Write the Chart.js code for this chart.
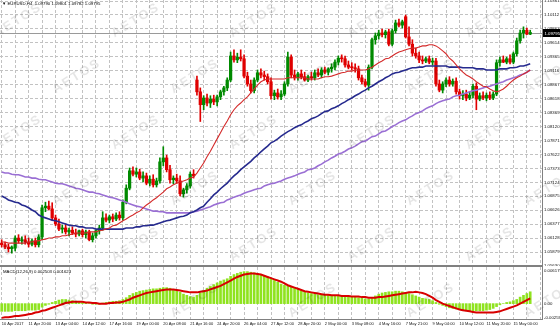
<!DOCTYPE html>
<html><head><meta charset="utf-8">
<script src="https://cdn.jsdelivr.net/npm/chart.js@4/dist/chart.umd.min.js"></script>
<style>
html,body{margin:0;padding:0;background:#fff;}
#wrap{position:relative;width:560px;height:328px;overflow:hidden;background:#fff;}
canvas{position:absolute;left:0;}
#c1{top:0;}
#c2{top:263px;}
.wm{position:absolute;font:bold 13px "Liberation Sans",Arial,sans-serif;letter-spacing:2px;color:rgba(0,0,0,0.10);transform:rotate(-32deg);transform-origin:center;white-space:nowrap;z-index:5;pointer-events:none;}
#sep{position:absolute;left:0;top:265px;width:543px;height:2px;background:#808080;z-index:3;}
</style></head><body>
<div id="wrap">
<canvas id="c1" width="560" height="266"></canvas>
<canvas id="c2" width="560" height="65"></canvas>
<div id="sep"></div>
</div>
<script>
// ---------- data ----------
const timeLabels = ["10 Apr 2017","11 Apr 20:00","13 Apr 04:00","14 Apr 12:00","17 Apr 16:00","19 Apr 00:00","20 Apr 08:00","21 Apr 16:00","24 Apr 20:00","26 Apr 04:00","27 Apr 12:00","28 Apr 20:00","2 May 00:00","3 May 08:00","4 May 16:00","7 May 21:00","9 May 04:00","10 May 12:00","11 May 20:00","15 May 00:00"];
const priceTicks = [1.10361,1.10112,1.09863,1.09614,1.09365,1.09116,1.08867,1.08618,1.08369,1.08120,1.07871,1.07622,1.07373,1.07124,1.06875,1.06626,1.06377,1.06128,1.05879,1.05630];
const headerText = "\u25BC EURUSD,H4  1.09790 1.09801 1.09782 1.09795";
const macdText = "MACD(12,26,9) 0.002503 0.001623";
const lastPrice = 1.09795;
const macdMax = 0.006179, macdMin = -0.002591;

const open = [1.0604,1.0601,1.0597,1.0594,1.0595,1.0613,1.0608,1.0610,1.0606,1.0602,
1.0608,1.0601,1.0615,1.0667,1.0670,1.0665,1.0649,1.0638,1.0629,1.0631,
1.0624,1.0627,1.0622,1.0620,1.0626,1.0619,1.0624,1.0610,1.0617,1.0626,
1.0631,1.0649,1.0645,1.0651,1.0647,1.0654,1.0649,1.0677,1.0702,1.0733,
1.0727,1.0731,1.0720,1.0724,1.0711,1.0718,1.0708,1.0715,1.0749,1.0756,
1.0735,1.0717,1.0720,1.0715,1.0692,1.0699,1.0706,1.0727,1.0895,1.0874,
1.0851,1.0863,1.0854,1.0861,1.0856,1.0865,1.0874,1.0881,1.0895,1.0938,
1.0931,1.0936,1.0933,1.0902,1.0888,1.0876,1.0895,1.0908,1.0904,1.0901,
1.0892,1.0867,1.0872,1.0865,1.0870,1.0888,1.0936,1.0904,1.0899,1.0906,
1.0901,1.0895,1.0901,1.0899,1.0908,1.0904,1.0913,1.0909,1.0915,1.0918,
1.0927,1.0934,1.0933,1.0922,1.0918,1.0917,1.0915,1.0899,1.0892,1.0886,
1.0918,1.0967,1.0974,1.0979,1.0976,1.0981,1.0959,1.0983,1.0997,1.0993,
1.1008,1.0972,1.0959,1.0943,1.0938,1.0931,1.0929,1.0933,1.0927,1.0929,
1.0888,1.0877,1.0888,1.0895,1.0888,1.0893,1.0874,1.0867,1.0870,1.0863,
1.0868,1.0884,1.0861,1.0867,1.0863,1.0868,1.0863,1.0870,1.0926,1.0931,
1.0927,1.0933,1.0927,1.0942,1.0965,1.0979,1.0984,1.0977];
const high = [1.0610,1.0606,1.0602,1.0599,1.0617,1.0619,1.0615,1.0617,1.0613,1.0611,
1.0613,1.0619,1.0672,1.0677,1.0679,1.0676,1.0654,1.0647,1.0636,1.0638,
1.0631,1.0633,1.0629,1.0627,1.0629,1.0627,1.0627,1.0622,1.0627,1.0636,
1.0660,1.0656,1.0654,1.0656,1.0658,1.0660,1.0681,1.0708,1.0738,1.0740,
1.0738,1.0736,1.0731,1.0729,1.0724,1.0726,1.0720,1.0756,1.0776,1.0761,
1.0743,1.0724,1.0727,1.0724,1.0702,1.0710,1.0731,1.0735,1.0902,1.0881,
1.0867,1.0870,1.0867,1.0868,1.0868,1.0877,1.0884,1.0899,1.0945,1.0949,
1.0943,1.0949,1.0940,1.0909,1.0895,1.0899,1.0913,1.0915,1.0911,1.0906,
1.0899,1.0877,1.0879,1.0876,1.0892,1.0945,1.0940,1.0913,1.0909,1.0913,
1.0909,1.0904,1.0909,1.0913,1.0915,1.0917,1.0918,1.0917,1.0924,1.0931,
1.0938,1.0940,1.0938,1.0929,1.0926,1.0924,1.0920,1.0904,1.0897,1.0922,
1.0970,1.0979,1.0984,1.0986,1.0984,1.0986,1.0986,1.1002,1.1004,1.1002,
1.1011,1.0990,1.0967,1.0952,1.0945,1.0938,1.0936,1.0938,1.0934,1.0934,
1.0895,1.0892,1.0899,1.0901,1.0897,1.0899,1.0879,1.0876,1.0877,1.0874,
1.0888,1.0890,1.0872,1.0874,1.0872,1.0874,1.0874,1.0931,1.0936,1.0938,
1.0936,1.0940,1.0945,1.0970,1.0984,1.0990,1.0988,1.0984];
const low = [1.0597,1.0594,1.0588,1.0586,1.0590,1.0604,1.0602,1.0602,1.0597,1.0599,
1.0597,1.0597,1.0610,1.0660,1.0663,1.0645,1.0635,1.0626,1.0622,1.0620,
1.0617,1.0619,1.0615,1.0617,1.0615,1.0613,1.0608,1.0606,1.0613,1.0620,
1.0627,1.0642,1.0640,1.0642,1.0644,1.0645,1.0645,1.0674,1.0699,1.0724,
1.0722,1.0717,1.0713,1.0708,1.0706,1.0704,1.0704,1.0711,1.0742,1.0731,
1.0711,1.0710,1.0711,1.0688,1.0686,1.0693,1.0702,1.0720,1.0868,1.0821,
1.0842,1.0849,1.0846,1.0851,1.0849,1.0860,1.0868,1.0876,1.0892,1.0927,
1.0926,1.0929,1.0899,1.0884,1.0872,1.0872,1.0892,1.0899,1.0895,1.0888,
1.0861,1.0860,1.0861,1.0860,1.0867,1.0884,1.0899,1.0895,1.0895,1.0897,
1.0893,1.0892,1.0895,1.0895,1.0901,1.0899,1.0906,1.0904,1.0909,1.0913,
1.0922,1.0927,1.0918,1.0915,1.0913,1.0909,1.0895,1.0888,1.0883,1.0877,
1.0915,1.0959,1.0968,1.0972,1.0970,1.0956,1.0956,1.0979,1.0990,1.0988,
1.0970,1.0956,1.0938,1.0934,1.0926,1.0924,1.0926,1.0924,1.0922,1.0884,
1.0874,1.0872,1.0883,1.0884,1.0884,1.0870,1.0861,1.0860,1.0858,1.0860,
1.0863,1.0842,1.0858,1.0860,1.0858,1.0860,1.0860,1.0867,1.0920,1.0926,
1.0924,1.0924,1.0924,1.0938,1.0961,1.0970,1.0976,1.0976];
const close = [1.0601,1.0597,1.0594,1.0597,1.0613,1.0608,1.0610,1.0606,1.0602,1.0608,
1.0601,1.0615,1.0667,1.0670,1.0665,1.0649,1.0638,1.0629,1.0631,1.0624,
1.0627,1.0622,1.0620,1.0626,1.0619,1.0624,1.0610,1.0617,1.0626,1.0631,
1.0649,1.0645,1.0651,1.0647,1.0654,1.0649,1.0677,1.0702,1.0733,1.0727,
1.0731,1.0720,1.0724,1.0711,1.0718,1.0708,1.0715,1.0749,1.0756,1.0735,
1.0717,1.0720,1.0715,1.0692,1.0699,1.0706,1.0727,1.0724,1.0874,1.0851,
1.0863,1.0854,1.0861,1.0856,1.0865,1.0874,1.0881,1.0895,1.0938,1.0931,
1.0936,1.0933,1.0902,1.0888,1.0876,1.0895,1.0908,1.0904,1.0901,1.0892,
1.0867,1.0872,1.0865,1.0870,1.0888,1.0936,1.0904,1.0899,1.0906,1.0901,
1.0895,1.0901,1.0899,1.0908,1.0904,1.0913,1.0909,1.0915,1.0918,1.0927,
1.0934,1.0933,1.0922,1.0918,1.0917,1.0915,1.0899,1.0892,1.0886,1.0918,
1.0967,1.0974,1.0979,1.0976,1.0981,1.0959,1.0983,1.0997,1.0993,1.0999,
1.0972,1.0959,1.0943,1.0938,1.0931,1.0929,1.0933,1.0927,1.0929,1.0888,
1.0877,1.0888,1.0895,1.0888,1.0893,1.0874,1.0867,1.0870,1.0863,1.0868,
1.0884,1.0861,1.0867,1.0863,1.0868,1.0863,1.0870,1.0926,1.0931,1.0927,
1.0933,1.0927,1.0942,1.0965,1.0979,1.0984,1.0977,1.0980];
const maRed = [1.0606,1.0606,1.0604,1.0604,1.0604,1.0604,1.0604,1.0604,1.0606,1.0606,
1.0608,1.0608,1.0610,1.0611,1.0613,1.0613,1.0615,1.0615,1.0617,1.0617,
1.0619,1.0620,1.0622,1.0622,1.0622,1.0622,1.0624,1.0624,1.0624,1.0626,
1.0627,1.0629,1.0631,1.0635,1.0636,1.0640,1.0644,1.0647,1.0651,1.0654,
1.0658,1.0661,1.0667,1.0672,1.0676,1.0681,1.0685,1.0690,1.0695,1.0701,
1.0704,1.0708,1.0711,1.0713,1.0715,1.0717,1.0720,1.0722,1.0729,1.0738,
1.0747,1.0758,1.0768,1.0779,1.0790,1.0801,1.0812,1.0822,1.0833,1.0842,
1.0849,1.0854,1.0860,1.0865,1.0872,1.0879,1.0886,1.0892,1.0895,1.0897,
1.0897,1.0897,1.0897,1.0897,1.0897,1.0899,1.0899,1.0899,1.0899,1.0899,
1.0899,1.0897,1.0897,1.0897,1.0897,1.0899,1.0901,1.0901,1.0902,1.0904,
1.0906,1.0908,1.0909,1.0911,1.0911,1.0913,1.0913,1.0913,1.0913,1.0915,
1.0918,1.0922,1.0926,1.0929,1.0933,1.0934,1.0938,1.0942,1.0945,1.0947,
1.0949,1.0951,1.0952,1.0952,1.0954,1.0956,1.0956,1.0958,1.0958,1.0956,
1.0952,1.0947,1.0942,1.0934,1.0929,1.0922,1.0915,1.0909,1.0904,1.0901,
1.0897,1.0892,1.0888,1.0884,1.0883,1.0879,1.0876,1.0874,1.0876,1.0879,
1.0884,1.0890,1.0895,1.0899,1.0902,1.0906,1.0909,1.0913];
const maBlue = [1.0688,1.0685,1.0681,1.0679,1.0677,1.0676,1.0672,1.0670,1.0667,1.0663,
1.0660,1.0654,1.0651,1.0649,1.0647,1.0645,1.0644,1.0642,1.0640,1.0638,
1.0636,1.0635,1.0635,1.0633,1.0633,1.0631,1.0631,1.0631,1.0629,1.0629,
1.0629,1.0629,1.0629,1.0629,1.0629,1.0629,1.0629,1.0631,1.0631,1.0631,
1.0633,1.0633,1.0635,1.0635,1.0636,1.0636,1.0638,1.0640,1.0642,1.0644,
1.0645,1.0647,1.0649,1.0651,1.0652,1.0654,1.0658,1.0660,1.0663,1.0667,
1.0670,1.0677,1.0683,1.0690,1.0695,1.0701,1.0706,1.0711,1.0718,1.0724,
1.0729,1.0735,1.0740,1.0745,1.0750,1.0756,1.0761,1.0767,1.0772,1.0777,
1.0783,1.0786,1.0790,1.0795,1.0799,1.0803,1.0806,1.0810,1.0813,1.0815,
1.0819,1.0822,1.0826,1.0828,1.0831,1.0835,1.0839,1.0840,1.0844,1.0846,
1.0849,1.0853,1.0856,1.0860,1.0863,1.0867,1.0870,1.0874,1.0877,1.0881,
1.0884,1.0888,1.0892,1.0895,1.0899,1.0902,1.0906,1.0908,1.0909,1.0911,
1.0913,1.0915,1.0917,1.0917,1.0918,1.0918,1.0920,1.0920,1.0920,1.0920,
1.0920,1.0920,1.0920,1.0918,1.0918,1.0918,1.0918,1.0917,1.0917,1.0917,
1.0917,1.0915,1.0915,1.0915,1.0913,1.0913,1.0913,1.0913,1.0915,1.0915,
1.0915,1.0917,1.0917,1.0918,1.0920,1.0920,1.0922,1.0924];
const maPurple = [1.0731,1.0729,1.0729,1.0727,1.0726,1.0726,1.0724,1.0722,1.0722,1.0720,
1.0720,1.0718,1.0717,1.0717,1.0715,1.0713,1.0711,1.0710,1.0710,1.0708,
1.0706,1.0704,1.0702,1.0701,1.0699,1.0697,1.0695,1.0695,1.0693,1.0692,
1.0690,1.0688,1.0686,1.0685,1.0683,1.0681,1.0679,1.0677,1.0674,1.0672,
1.0670,1.0669,1.0667,1.0665,1.0663,1.0661,1.0661,1.0660,1.0660,1.0658,
1.0658,1.0658,1.0658,1.0658,1.0658,1.0658,1.0658,1.0660,1.0661,1.0663,
1.0665,1.0667,1.0669,1.0672,1.0674,1.0676,1.0677,1.0681,1.0683,1.0686,
1.0688,1.0690,1.0693,1.0695,1.0697,1.0699,1.0701,1.0702,1.0706,1.0708,
1.0710,1.0711,1.0713,1.0715,1.0718,1.0720,1.0722,1.0724,1.0727,1.0729,
1.0731,1.0735,1.0736,1.0738,1.0742,1.0745,1.0749,1.0752,1.0756,1.0759,
1.0763,1.0765,1.0768,1.0772,1.0774,1.0777,1.0781,1.0785,1.0786,1.0790,
1.0794,1.0795,1.0799,1.0803,1.0804,1.0808,1.0812,1.0815,1.0819,1.0822,
1.0824,1.0828,1.0831,1.0835,1.0837,1.0840,1.0844,1.0847,1.0849,1.0853,
1.0856,1.0858,1.0860,1.0861,1.0865,1.0867,1.0868,1.0870,1.0872,1.0874,
1.0876,1.0877,1.0879,1.0881,1.0883,1.0884,1.0886,1.0888,1.0890,1.0892,
1.0895,1.0897,1.0899,1.0901,1.0904,1.0906,1.0909,1.0913];
const macdHist = [-0.0013,-0.0013,-0.0013,-0.0013,-0.0012,-0.0012,-0.0012,-0.0012,-0.0011,-0.0011,
-0.0011,-0.0010,-0.0006,-0.0003,-0.0001,0.0002,0.0004,0.0006,0.0007,0.0007,
0.0006,0.0005,0.0004,0.0003,0.0002,0.0001,0.0000,-0.0001,-0.0001,-0.0001,
0.0001,0.0002,0.0003,0.0004,0.0004,0.0005,0.0007,0.0010,0.0014,0.0017,
0.0019,0.0021,0.0022,0.0023,0.0024,0.0025,0.0025,0.0026,0.0027,0.0027,
0.0026,0.0024,0.0022,0.0019,0.0016,0.0014,0.0012,0.0011,0.0014,0.0018,
0.0022,0.0026,0.0029,0.0032,0.0035,0.0038,0.0040,0.0042,0.0046,0.0049,
0.0051,0.0053,0.0054,0.0054,0.0053,0.0052,0.0051,0.0049,0.0047,0.0045,
0.0042,0.0039,0.0036,0.0033,0.0031,0.0030,0.0028,0.0026,0.0024,0.0022,
0.0020,0.0018,0.0017,0.0016,0.0015,0.0015,0.0014,0.0014,0.0014,0.0014,
0.0014,0.0014,0.0013,0.0013,0.0012,0.0011,0.0010,0.0009,0.0008,0.0008,
0.0010,0.0013,0.0016,0.0018,0.0019,0.0020,0.0020,0.0021,0.0021,0.0020,
0.0019,0.0017,0.0015,0.0013,0.0011,0.0009,0.0008,0.0007,0.0005,0.0002,
-0.0001,-0.0003,-0.0005,-0.0007,-0.0008,-0.0009,-0.0010,-0.0011,-0.0012,-0.0012,
-0.0012,-0.0012,-0.0012,-0.0012,-0.0011,-0.0010,-0.0008,-0.0005,-0.0002,0.0000,
0.0002,0.0003,0.0005,0.0007,0.0011,0.0014,0.0017,0.0020];
const macdSignal = [-0.0024,-0.0023,-0.0023,-0.0022,-0.0021,-0.0021,-0.0020,-0.0019,-0.0018,-0.0017,
-0.0015,-0.0014,-0.0012,-0.0011,-0.0009,-0.0007,-0.0005,-0.0003,-0.0001,0.0001,
0.0002,0.0003,0.0003,0.0003,0.0003,0.0002,0.0002,0.0001,0.0001,0.0000,
0.0000,0.0000,0.0001,0.0001,0.0002,0.0002,0.0003,0.0005,0.0007,0.0010,
0.0012,0.0014,0.0016,0.0018,0.0019,0.0020,0.0021,0.0022,0.0023,0.0024,
0.0024,0.0024,0.0023,0.0022,0.0021,0.0020,0.0019,0.0019,0.0019,0.0020,
0.0021,0.0022,0.0024,0.0026,0.0028,0.0030,0.0033,0.0036,0.0039,0.0042,
0.0045,0.0047,0.0049,0.0050,0.0051,0.0051,0.0050,0.0049,0.0047,0.0045,
0.0043,0.0041,0.0039,0.0037,0.0034,0.0031,0.0029,0.0027,0.0025,0.0023,
0.0021,0.0020,0.0019,0.0018,0.0017,0.0016,0.0015,0.0015,0.0014,0.0014,
0.0014,0.0013,0.0013,0.0013,0.0012,0.0012,0.0012,0.0011,0.0011,0.0010,
0.0010,0.0010,0.0011,0.0011,0.0012,0.0013,0.0014,0.0015,0.0016,0.0017,
0.0018,0.0019,0.0019,0.0020,0.0019,0.0018,0.0016,0.0013,0.0010,0.0006,
0.0003,0.0000,-0.0002,-0.0004,-0.0006,-0.0008,-0.0010,-0.0011,-0.0012,-0.0013,
-0.0014,-0.0015,-0.0015,-0.0015,-0.0015,-0.0015,-0.0015,-0.0014,-0.0013,-0.0011,
-0.0009,-0.0007,-0.0005,-0.0003,0.0000,0.0003,0.0006,0.0009];

// ---------- layout constants ----------
const SLOTS = 161;              // bars + empty right shift
const yMax = 1.10379, yMin = 1.05631;
const categories = Array.from({length: SLOTS}, (_, i) => i);
const FONT = '"Liberation Sans", Arial, sans-serif';
const GRID = '#c2c2c2';
const UP = '#008a00', DN = '#e00000';
const candleColors = close.map((c, i) => c >= open[i] ? UP : DN);

// watermark
const wmPos = [];
for (let r = 0; r < 6; r++) for (let k = 0; k < 6; k++) wmPos.push([ -10 + k*118 + (r%2)*59, 12 + r*56 ]);
const wrap = document.getElementById('wrap');
wmPos.forEach(([x,y]) => { const d = document.createElement('div'); d.className='wm'; d.textContent='AETOS'; d.style.left=x+'px'; d.style.top=y+'px'; wrap.appendChild(d); });

const gridColor = c => (c.index % 4 === 0 ? GRID : 'rgba(0,0,0,0)');

const overlay1 = {
  id: 'overlay1',
  beforeDatasetsDraw(chart) {
    const {ctx, chartArea, scales: {y}} = chart;
    const py = Math.round(y.getPixelForValue(lastPrice)) + 0.5;
    ctx.save(); ctx.strokeStyle = '#9a9a9a'; ctx.lineWidth = 1;
    ctx.beginPath(); ctx.moveTo(chartArea.left, py); ctx.lineTo(chartArea.right, py); ctx.stroke(); ctx.restore();
  },
  afterDraw(chart) {
    const {ctx, chartArea, scales: {y}} = chart;
    const py = Math.round(y.getPixelForValue(lastPrice));
    ctx.save();
    ctx.fillStyle = '#000'; ctx.fillRect(chartArea.right + 1, py - 4, 18, 8);
    ctx.fillStyle = '#fff'; ctx.font = '4.3px ' + FONT; ctx.textBaseline = 'middle';
    ctx.fillText(lastPrice.toFixed(5), chartArea.right + 2.5, py + 0.5);
    ctx.fillStyle = '#000'; ctx.textBaseline = 'top'; ctx.font = '4.3px ' + FONT;
    ctx.fillText(headerText, 2, 2);
    ctx.restore();
  }
};

new Chart(document.getElementById('c1'), {
  type: 'bar',
  data: {
    labels: categories,
    datasets: [
      {type: 'line', data: maRed, borderColor: '#d42a2a', borderWidth: 1.1, pointRadius: 0, order: 0},
      {type: 'line', data: maBlue, borderColor: '#262a8e', borderWidth: 1.6, pointRadius: 0, order: 0},
      {type: 'line', data: maPurple, borderColor: '#9a6fd4', borderWidth: 1.6, pointRadius: 0, order: 0},
      {data: low.map((l, i) => [l, high[i]]), backgroundColor: candleColors, barThickness: 1, grouped: false, order: 2},
      {data: open.map((o, i) => [o, close[i]]), backgroundColor: candleColors, barThickness: 2.6, grouped: false, minBarLength: 1, order: 1}
    ]
  },
  options: {
    responsive: false, animation: false, devicePixelRatio: 1,
    layout: {padding: 0},
    plugins: {legend: {display: false}, tooltip: {enabled: false}},
    scales: {
      x: {
        offset: true,
        ticks: {display: false, autoSkip: false},
        grid: {offset: false, drawTicks: false, color: gridColor, lineWidth: 1, borderDash: [3, 2]},
        border: {display: false, dash: [3, 2]},
        afterFit: s => { s.height = 0; s.paddingLeft = 0; s.paddingRight = 0; }
      },
      y: {
        position: 'right', min: yMin, max: yMax,
        afterBuildTicks: s => { s.ticks = priceTicks.map(v => ({value: v})); },
        ticks: {font: {size: 4.3, family: FONT}, color: '#111', padding: 2, callback: v => Number(v).toFixed(5)},
        grid: {drawTicks: false, color: GRID, borderDash: [3, 2]},
        border: {display: true, color: '#808080', width: 1, dash: [3, 2]},
        afterFit: s => { s.width = 18; s.paddingTop = 0; s.paddingBottom = 0; }
      }
    }
  },
  plugins: [overlay1]
});

const overlay2 = {
  id: 'overlay2',
  afterDraw(chart) {
    const {ctx, chartArea, scales: {y}} = chart;
    ctx.save();
    ctx.fillStyle = '#111'; ctx.font = '4.3px ' + FONT;
    const lx = chartArea.right + 2;
    ctx.textBaseline = 'top'; ctx.fillText(macdMax.toFixed(6), lx, chartArea.top + 1.5);
    ctx.textBaseline = 'middle'; ctx.fillText('0.00', lx, y.getPixelForValue(0));
    ctx.textBaseline = 'bottom'; ctx.fillText(macdMin.toFixed(6), lx, chartArea.bottom + 1);
    ctx.fillStyle = '#000'; ctx.textBaseline = 'top';
    ctx.fillText(macdText, 3, chartArea.top + 3);
    ctx.restore();
  }
};

new Chart(document.getElementById('c2'), {
  type: 'bar',
  data: {
    labels: categories,
    datasets: [
      {type: 'line', data: macdSignal, borderColor: '#d80000', borderWidth: 2, pointRadius: 0, order: 0},
      {data: macdHist, backgroundColor: '#8fe31f', barThickness: 2, order: 1}
    ]
  },
  options: {
    responsive: false, animation: false, devicePixelRatio: 1,
    layout: {padding: {top: 4, left: 0, right: 0, bottom: 0}},
    plugins: {legend: {display: false}, tooltip: {enabled: false}},
    scales: {
      x: {
        offset: true,
        ticks: {autoSkip: false, maxRotation: 0, minRotation: 0, align: 'start', padding: 2, color: '#111',
          font: {size: 4, family: FONT},
          callback: (v, i) => (i % 8 === 0 && timeLabels[i / 8]) ? timeLabels[i / 8] : ''},
        grid: {offset: false, drawTicks: false, color: gridColor, lineWidth: 1, borderDash: [3, 2]},
        border: {display: true, color: '#808080', width: 1, dash: [3, 2]},
        afterFit: s => { s.height = 9; s.paddingLeft = 0; s.paddingRight = 0; }
      },
      y: {
        position: 'right', min: macdMin, max: macdMax,
        ticks: {display: false},
        grid: {display: false, drawTicks: false},
        border: {display: true, color: '#808080', width: 1},
        afterFit: s => { s.width = 18; s.paddingTop = 0; s.paddingBottom = 0; }
      }
    }
  },
  plugins: [overlay2]
});
</script>
</body></html>
